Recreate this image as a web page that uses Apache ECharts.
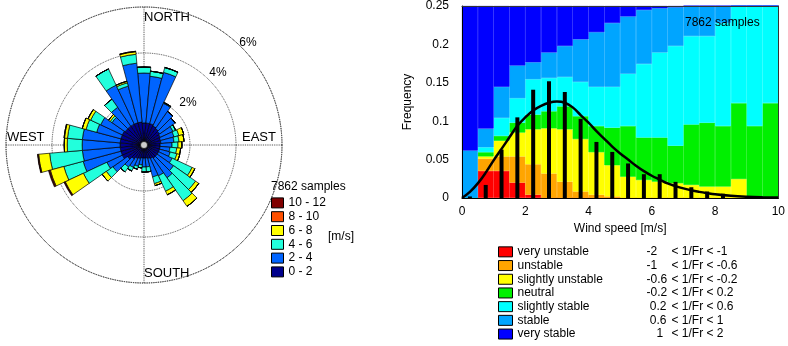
<!DOCTYPE html>
<html><head><meta charset="utf-8">
<script src="https://cdn.jsdelivr.net/npm/echarts@6/dist/echarts.min.js"></script>
<style>html,body{margin:0;padding:0;background:#fff}#c{width:788px;height:346px}</style>
</head><body><div id="c"></div>
<script>
// ---------- Wind rose data (percent of samples per 10-degree sector, clockwise from North) ----------
const roseDirections = ['0','10','20','30','40','50','60','70','80','90','100','110','120','130','140','150','160','170',
  '180','190','200','210','220','230','240','250','260','270','280','290','300','310','320','330','340','350'];
const roseSpeedNames = ['0 - 2','2 - 4','4 - 6','6 - 8','8 - 10','10 - 12'];
const rose0_2  = [.96,.96,.96,.91,.87,.83,.78,.74,.74,.70,.70,.70,.70,.70,.70,.65,.61,.57,.57,.57,.61,.65,.74,.87,1.04,1.04,1.04,1.04,1.04,1.04,1.04,1.00,1.00,1.00,1.00,1.00];
const rose2_4  = [2.17,2.04,2.31,1.09,.91,.83,.61,.61,.57,.52,.43,.48,.65,.87,1.04,.83,.83,.39,.39,.30,.35,.43,.43,.78,.74,1.70,1.65,1.65,1.65,1.09,1.04,.70,1.00,1.87,1.65,2.57];
const rose4_6  = [.26,.22,.22,.04,0,0,.13,.22,.22,.26,.30,.30,.96,1.17,1.22,.74,.30,.22,.22,.13,.13,.17,.26,.35,1.13,.87,1.43,.65,.65,.48,.48,.09,.43,.78,.15,.39];
const rose6_8  = [0,0,0,0,0,0,0,.22,.22,.17,.17,.13,.13,.17,.30,.17,.09,0,0,0,0,0,0,.22,.87,.61,.48,.13,.13,.17,.13,.09,0,0,.07,.11];
const rose8_10 = [0,0,0,0,0,0,0,0,0,0,0,0,0,0,0,0,0,0,0,0,0,0,0,0,.03,.04,.03,0,.02,0,0,0,0,0,0,.02];
const rose10_12= [0,0,0,0,0,0,0,0,0,0,0,0,0,0,0,0,0,0,0,0,0,0,0,0,.03,.04,.02,0,0,0,0,0,0,0,0,0];
const roseTicks = [2,4,6];

// ---------- Stability classes per wind-speed bin (0.5 m/s bins, stacked to 0.25) ----------
const speedBins = ['0.25','0.75','1.25','1.75','2.25','2.75','3.25','3.75','4.25','4.75','5.25','5.75','6.25','6.75','7.25','7.75','8.25','8.75','9.25','9.75'];
const stabNames = ['very unstable','unstable','slightly unstable','neutral','slightly stable','stable','very stable'];
const stabRanges = [['-2','< 1/Fr < -1'],['-1','< 1/Fr < -0.6'],['-0.6','< 1/Fr < -0.2'],['-0.2','< 1/Fr < 0.2'],[' 0.2','< 1/Fr < 0.6'],[' 0.6','< 1/Fr < 1'],['   1','< 1/Fr < 2']];
const veryUnstable     = [0,.0353,.0353,.0200,.0043,0,0,0,0,0,0,0,0,0,0,0,0,0,0,0];
const unstable         = [0,.0158,.0188,.0341,.0396,.0319,.0213,.0085,.0043,.0021,0,0,0,0,0,0,0,0,0,0];
const slightlyUnstable = [0,.0030,.0204,.0311,.0455,.0588,.0681,.0682,.0553,.0405,.0277,.0234,.0213,.0192,.0170,.0149,.0149,.0247,0,0];
const neutral          = [0,.0055,.0064,.0128,.0192,.0222,.0299,.0298,.0341,.0490,.0660,.0554,.0575,.0489,.0788,.0831,.0788,.0988,.0937,.1235];
const slightlyStable   = [0,.0064,.0234,.0319,.0460,.0434,.0383,.0447,.0511,.0532,.0681,.0958,.1107,.1299,.1150,.1128,.1342,.1265,.1563,.1265];
const stable           = [.0618,.0243,.0405,.0426,.0221,.0332,.0404,.0554,.0711,.0831,.0746,.0703,.0575,.0503,.0392,.0392,.0221,0,0,0];
const veryStable       = [.1882,.1597,.1052,.0775,.0733,.0605,.0520,.0434,.0341,.0221,.0136,.0051,.0030,.0017,0,0,0,0,0,0];

// ---------- Wind speed histogram (frequency per 0.5 m/s bin) and fitted curve ----------
const histX = [0.25,0.75,1.25,1.75,2.25,2.75,3.25,3.75,4.25,4.75,5.25,5.75,6.25,6.75,7.25,7.75,8.25];
const histY = [.002,.017,.063,.105,.141,.152,.138,.103,.073,.060,.045,.031,.031,.021,.014,.0085,.0055];
const curveX = [0,0.25,0.5,0.75,1,1.25,1.5,1.75,2,2.25,2.5,2.75,3,3.25,3.5,3.75,4,4.25,4.5,4.75,5,5.25,5.5,5.75,6,6.25,6.5,6.75,7,7.25,7.5,7.75,8,8.5,9,9.5,10];
const curveY = [0,.008,.019,.033,.049,.064,.079,.094,.105,.114,.120,.124,.1255,.124,.118,.108,.098,.087,.077,.067,.058,.050,.042,.035,.029,.024,.019,.0155,.0125,.010,.008,.0063,.0048,.0028,.0016,.0009,.0005];
const sampleText = '7862 samples';

const FONT = 'Liberation Sans, Arial, sans-serif';
const roseColors = ['#00008c','#0064ff','#22ffdc','#ffff00','#ff5000','#800000'];
const stabColors = ['#ff0000','#ffa500','#ffff00','#00f000','#00ffff','#00a5ff','#0000ff'];
const dotted = {color:'#333', width:0.9, type:'dotted'};

const roseData = [rose0_2, rose2_4, rose4_6, rose6_8, rose8_10, rose10_12];
const stabData = [veryUnstable, unstable, slightlyUnstable, neutral, slightlyStable, stable, veryStable];

const chart = echarts.init(document.getElementById('c'), null, {renderer:'canvas'});

const series = [];
roseSpeedNames.forEach((n,i)=>{
  series.push({type:'bar', name:n, coordinateSystem:'polar', polarIndex:0, stack:'rose',
    barCategoryGap:'0%', data: roseData[i],
    itemStyle:{color:roseColors[i], borderColor:'#000', borderWidth:0.7}, animation:false, silent:true});
});
series.push({type:'scatter', coordinateSystem:'polar', polarIndex:0, data:[[0,0]], symbolSize:7,
  itemStyle:{color:'#fff', borderColor:'#000', borderWidth:0.8}, z:5, silent:true, animation:false});
stabNames.forEach((n,i)=>{
  series.push({type:'bar', name:n, xAxisIndex:0, yAxisIndex:0, stack:'stab', barCategoryGap:'0%',
    data: stabData[i], itemStyle:{color:stabColors[i], borderColor:stabColors[i], borderWidth:0.6},
    animation:false, silent:true});
});
series.push({type:'bar', xAxisIndex:1, yAxisIndex:0, barWidth:4, data: histX.map((x,i)=>[x,histY[i]]),
  itemStyle:{color:'#000'}, z:3, animation:false, silent:true});
series.push({type:'line', xAxisIndex:1, yAxisIndex:0, smooth:0.4, symbol:'none', data: curveX.map((x,i)=>[x,curveY[i]]),
  lineStyle:{color:'#000', width:2.5}, z:4, animation:false, silent:true});

const lbl = {color:'#000', fontSize:12, fontFamily:FONT};
const option = {
  animation:false,
  textStyle:{fontFamily:FONT},
  polar:[{center:[144,145], radius:[0,138]},{center:[144,145], radius:[0,138]}],
  angleAxis:[
    {polarIndex:0, type:'category', data:roseDirections, startAngle:95, clockwise:true, boundaryGap:true,
      axisLine:{show:false}, axisTick:{show:false}, axisLabel:{show:false}, splitLine:{show:false}},
    {polarIndex:1, type:'value', min:0, max:360, interval:90, startAngle:90, clockwise:true,
      axisLine:{show:true, lineStyle:dotted}, axisTick:{show:false}, axisLabel:{show:false}, splitLine:{show:true, lineStyle:dotted}}
  ],
  radiusAxis:[
    {polarIndex:0, type:'value', min:0, max:6, interval:2, axisLine:{show:false}, axisTick:{show:false},
      axisLabel:{show:false}, splitLine:{show:true, lineStyle:dotted}},
    {polarIndex:1, type:'value', min:0, max:6, show:false}
  ],
  grid:{left:462, top:3, width:324, height:195, show:false},
  xAxis:[
    {type:'category', gridIndex:0, data:speedBins, position:'bottom', show:false, boundaryGap:true},
    {type:'value', gridIndex:0, min:0, max:10, interval:2, position:'bottom', z:10,
      axisLine:{show:true, onZero:false, lineStyle:{color:'#000', width:1}}, axisTick:{show:false},
      axisLabel:Object.assign({margin:8}, lbl), splitLine:{show:false},
      name:'Wind speed [m/s]', nameLocation:'middle', nameGap:24, nameTextStyle:lbl},
    {type:'value', gridIndex:0, min:0, max:10, position:'top', z:10,
      axisLine:{show:true, onZero:false, lineStyle:{color:'#333', width:1}}, axisTick:{show:false},
      axisLabel:{show:false}, splitLine:{show:false}}
  ],
  yAxis:[
    {type:'value', gridIndex:0, min:0, max:0.25, interval:0.05, position:'left', z:10,
      axisLine:{show:true, onZero:false, lineStyle:{color:'#000', width:1}}, axisTick:{show:false},
      axisLabel:Object.assign({margin:13}, lbl), splitLine:{show:false},
      name:'Frequency', nameLocation:'middle', nameGap:48, nameRotate:90, nameTextStyle:lbl},
    {type:'value', gridIndex:0, min:0, max:0.25, position:'right', z:10,
      axisLine:{show:true, onZero:false, lineStyle:{color:'#333', width:1}}, axisTick:{show:false},
      axisLabel:{show:false}, splitLine:{show:false}}
  ],
  legend:[
    {data:roseSpeedNames.slice().reverse(), orient:'vertical', left:271, top:196, itemWidth:12, itemHeight:10,
      itemGap:0, icon:'rect', selectedMode:false, padding:0,
      itemStyle:{borderColor:'#000', borderWidth:1},
      textStyle:{color:'#000', fontSize:12, fontFamily:FONT, lineHeight:13.8}},
    {data:stabNames, orient:'vertical', left:498, top:245, itemWidth:14, itemHeight:10,
      itemGap:0, icon:'rect', selectedMode:false, padding:0,
      itemStyle:{borderColor:'#000', borderWidth:1},
      formatter:(name)=>{const r = stabRanges[stabNames.indexOf(name)]; return '{n|'+name+'}{lo|'+r[0]+'}{r|'+r[1]+'}';},
      textStyle:{color:'#000', fontSize:12, fontFamily:FONT, lineHeight:13.7,
        rich:{n:{width:129, fontSize:12, fontFamily:FONT, lineHeight:13.7},
              lo:{width:25, fontSize:12, fontFamily:FONT, lineHeight:13.7},
              r:{fontSize:12, fontFamily:FONT, lineHeight:13.7}}}}
  ],
  graphic:[
    {type:'text', x:144, y:17, style:{text:'NORTH', font:'13px '+FONT, fill:'#000', align:'left', verticalAlign:'middle'}},
    {type:'text', x:144, y:273, style:{text:'SOUTH', font:'13px '+FONT, fill:'#000', align:'left', verticalAlign:'middle'}},
    {type:'text', x:7, y:137, style:{text:'WEST', font:'13px '+FONT, fill:'#000', align:'left', verticalAlign:'middle'}},
    {type:'text', x:242, y:137, style:{text:'EAST', font:'13px '+FONT, fill:'#000', align:'left', verticalAlign:'middle'}},
    {type:'text', x:188, y:103, style:{text:roseTicks[0]+'%', font:'12px '+FONT, fill:'#000', align:'center', verticalAlign:'middle'}},
    {type:'text', x:218, y:73, style:{text:roseTicks[1]+'%', font:'12px '+FONT, fill:'#000', align:'center', verticalAlign:'middle'}},
    {type:'text', x:248, y:43, style:{text:roseTicks[2]+'%', font:'12px '+FONT, fill:'#000', align:'center', verticalAlign:'middle'}},
    {type:'text', x:271, y:187, style:{text:sampleText, font:'12px '+FONT, fill:'#000', align:'left', verticalAlign:'middle'}},
    {type:'text', x:328, y:237, style:{text:'[m/s]', font:'12px '+FONT, fill:'#000', align:'left', verticalAlign:'middle'}},
    {type:'text', x:685, y:23, z:100, style:{text:sampleText, font:'12px '+FONT, fill:'#000', align:'left', verticalAlign:'middle'}}
  ],
  series: series
};
chart.setOption(option);
</script></body></html>
